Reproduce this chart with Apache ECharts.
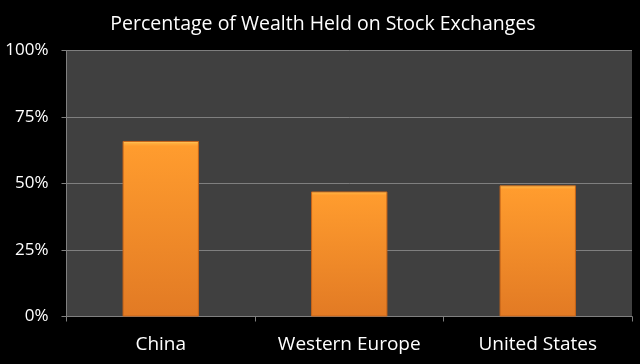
<!DOCTYPE html>
<html><head><meta charset="utf-8">
<script src="https://cdn.jsdelivr.net/npm/echarts@6/dist/echarts.min.js"></script>
<style>html,body{margin:0;padding:0;background:#000;}#c{width:640px;height:364px;}</style>
</head><body><div id="c"></div>
<script>
var categories = ["China", "Western Europe", "United States"];
var shareValues = [0.66, 0.47, 0.493];
var yTicks = [0, 0.25, 0.5, 0.75, 1];
var titleText = "Percentage of Wealth Held on Stock Exchanges";

var chart = echarts.init(document.getElementById('c'), null, {renderer: 'canvas'});
var font = '"Open Sans", "Noto Sans", sans-serif';
chart.setOption({
  backgroundColor: '#000000',
  animation: false,
  title: {
    text: titleText, left: 318, top: 9, textAlign: 'center',
    textStyle: {color: '#ffffff', fontSize: 19.5, fontWeight: 'normal', fontFamily: font}
  },
  grid: {left: 66.5, top: 50.5, right: 8, bottom: 47.5, show: true,
    backgroundColor: '#404040', borderWidth: 0},
  xAxis: {
    type: 'category', data: categories,
    axisLine: {show: true, lineStyle: {color: '#808080', width: 1}},
    axisTick: {show: true, length: 5, alignWithLabel: false, interval: 0, lineStyle: {color: '#808080'}},
    axisLabel: {color: '#ffffff', fontSize: 19, fontFamily: font, margin: 19, interval: 0, hideOverlap: false}
  },
  yAxis: {
    type: 'value', min: 0, max: 1, interval: 0.25,
    axisLine: {show: true, lineStyle: {color: '#808080', width: 1}},
    axisTick: {show: true, length: 5, lineStyle: {color: '#808080'}},
    splitLine: {show: true, lineStyle: {color: '#7f7f7f', width: 1}},
    axisLabel: {color: '#ffffff', fontSize: 17, fontFamily: font, margin: 18,
      formatter: function (v) { return Math.round(v * 100) + '%'; }}
  },
  series: [{
    type: 'bar', data: shareValues, barWidth: '40.5%',
    itemStyle: {
      color: new echarts.graphic.LinearGradient(0, 0, 0, 1, [
        {offset: 0, color: '#ffe080'},
        {offset: 0.012, color: '#ffb040'},
        {offset: 0.03, color: '#ff9c2e'},
        {offset: 1, color: '#e27a24'}
      ]),
      borderColor: '#c86418', borderWidth: 1
    }
  }]
});
</script></body></html>
